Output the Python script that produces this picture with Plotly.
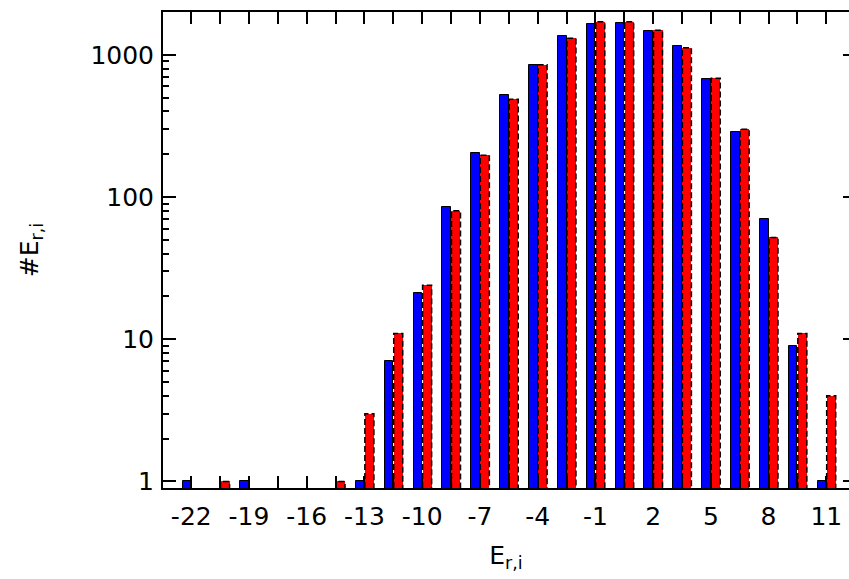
import math
import plotly.graph_objects as go

# bin centres of E_r,i
bins = [-22, -20.5, -19, -17.5, -16, -14.5, -13, -11.5, -10, -8.5, -7, -5.5,
        -4, -2.5, -1, 0.5, 2, 3.5, 5, 6.5, 8, 9.5, 11]
blue_counts = [1, None, 1, None, None, None, 1, 7, 21, 85, 204, 526,
               853, 1349, 1656, 1683, 1462, 1153, 673, 286, 70, 9, 1]
red_counts = [None, 1, None, None, None, 1, 3, 11, 24, 80, 197, 487,
              853, 1306, 1711, 1711, 1486, 1122, 684, 300, 52, 11, 4]
xtick_vals = [-22, -19, -16, -13, -10, -7, -4, -1, 2, 5, 8, 11]
xtick_labels = ["-22", "-19", "-16", "-13", "-10", "-7", "-4", "-1", "2", "5", "8", "11"]
xminor_vals = [-20.5, -17.5, -14.5, -11.5, -8.5, -5.5, -2.5, 0.5, 3.5, 6.5, 9.5]
ytick_vals = [1, 10, 100, 1000]
ytick_labels = ["1", "10", "100", "1000"]
yminor_vals = [m * d for d in (1, 10, 100, 1000) for m in range(2, 10)]

XMIN, XMAX = -23.47, 12.18
YMIN, YMAX = 0.9, 2000

FONT = "DejaVu Sans"

fig = go.Figure()

blue_off, blue_w = -0.45, 0.45
red_off, red_w = 0.02, 0.47

fig.add_trace(go.Bar(
    x=bins, y=blue_counts, offset=blue_off, width=blue_w,
    marker=dict(color="#0000ff", line=dict(color="black", width=1)),
    showlegend=False,
))
fig.add_trace(go.Bar(
    x=bins, y=red_counts, offset=red_off, width=red_w,
    marker=dict(color="#ff0000", line=dict(color="#ff0000", width=0)),
    showlegend=False,
))

# dashed outline of red bars, derived from the data
ox, oy = [], []
for b, v in zip(bins, red_counts):
    if v is None:
        continue
    x0 = b + red_off
    x1 = b + red_off + red_w
    ox += [x0, x0, x1, x1, None]
    oy += [YMIN, v, v, YMIN, None]
fig.add_trace(go.Scatter(
    x=ox, y=oy, mode="lines",
    line=dict(color="black", width=1.5, dash="6px,3px"),
    hoverinfo="skip", showlegend=False,
))

# invisible trace to carry the right-hand tick axis
fig.add_trace(go.Scatter(
    x=bins, y=[v if v else 1 for v in blue_counts], yaxis="y2", mode="markers",
    marker=dict(opacity=0), hoverinfo="skip", showlegend=False,
))

yr = [math.log10(YMIN), math.log10(YMAX)]

fig.update_layout(
    width=849, height=579,
    margin=dict(l=163, r=0, t=12, b=91),
    plot_bgcolor="white", paper_bgcolor="white",
    font=dict(family=FONT, size=25, color="black"),
    bargap=0,
    xaxis=dict(
        range=[XMIN, XMAX], tickmode="array", tickvals=xtick_vals, ticktext=xtick_labels,
        ticks="inside", ticklen=12, tickwidth=2, tickcolor="black",
        minor=dict(tickmode="array", tickvals=xminor_vals, ticks="inside",
                   ticklen=12, tickwidth=2, tickcolor="black", showgrid=False),
        showline=True, linewidth=2, linecolor="black", mirror="ticks",
        showgrid=False, zeroline=False,
        title=dict(text="E<sub>r,i</sub>", font=dict(size=25), standoff=16),
        tickfont=dict(size=25), ticklabelstandoff=5,
    ),
    yaxis=dict(
        type="log", range=yr,
        tickmode="array", tickvals=ytick_vals, ticktext=ytick_labels,
        ticks="inside", ticklen=13, tickwidth=2, tickcolor="black",
        minor=dict(tickmode="array", tickvals=yminor_vals, ticks="inside",
                   ticklen=6, tickwidth=2, tickcolor="black", showgrid=False),
        showline=True, linewidth=2, linecolor="black", mirror=False,
        showgrid=False, zeroline=False,
        title=dict(text="#E<sub>r,i</sub>", font=dict(size=25), standoff=45),
        tickfont=dict(size=25), ticklabelstandoff=2,
    ),
    yaxis2=dict(
        type="log", overlaying="y", side="right", range=yr,
        tickmode="array", tickvals=ytick_vals, showticklabels=False,
        ticks="inside", ticklen=6, tickwidth=2, tickcolor="black",
        showline=False, showgrid=False, zeroline=False,
    ),
)

fig.write_html("out.html", config={"displayModeBar": False},
               post_script="document.body.style.margin='0px';")
